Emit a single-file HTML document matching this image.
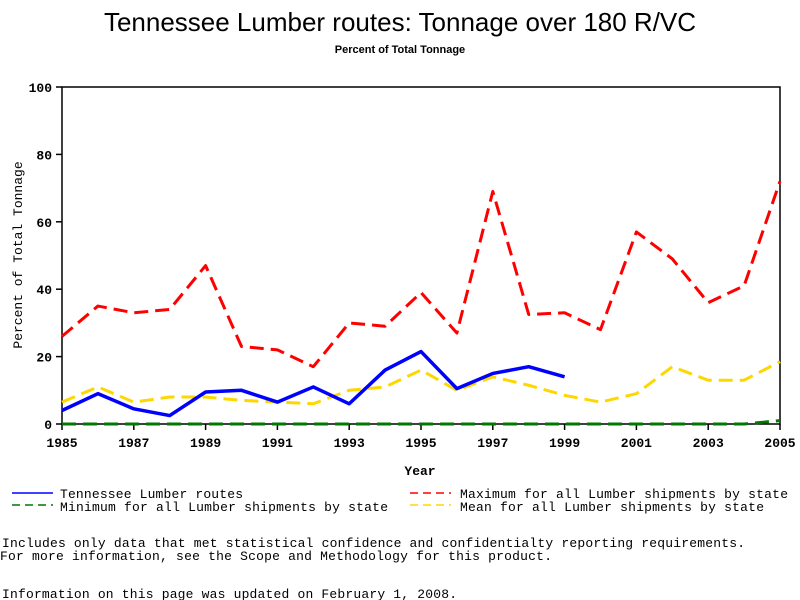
<!DOCTYPE html>
<html><head><meta charset="utf-8"><style>
html,body{margin:0;padding:0;background:#fff;}
svg{display:block;}
text{font-family:"Liberation Mono",monospace;}
</style></head><body>
<svg id="chart" width="800" height="600" xmlns="http://www.w3.org/2000/svg">
<text x="400" y="31" text-anchor="middle" font-family="Liberation Sans, sans-serif" style="font-family:'Liberation Sans',sans-serif" font-size="26">Tennessee Lumber routes: Tonnage over 180 R/VC</text>
<text x="400" y="53" text-anchor="middle" font-size="11" font-weight="bold" style="font-family:'Liberation Sans',sans-serif">Percent of Total Tonnage</text>
<rect x="62" y="87" width="718" height="337" fill="none" stroke="#000" stroke-width="1.5"/>
<g id="axes"></g>
<g id="series"></g>
<text x="420" y="475" text-anchor="middle" font-size="13" font-weight="bold">Year</text>
<text transform="translate(22,255) rotate(-90)" text-anchor="middle" font-size="13">Percent of Total Tonnage</text>
<g>
<line x1="12" y1="493" x2="53" y2="493" stroke="#0000ff" stroke-width="1.5"/>
<text x="60" y="498" font-size="13" textLength="183">Tennessee Lumber routes</text>
<line x1="12" y1="505" x2="53" y2="505" stroke="#007700" stroke-width="1.5" stroke-dasharray="8,5"/>
<text x="60" y="511" font-size="13" textLength="328">Minimum for all Lumber shipments by state</text>
<line x1="410" y1="493" x2="451" y2="493" stroke="#ff0000" stroke-width="1.5" stroke-dasharray="8,5"/>
<text x="460" y="498" font-size="13" textLength="328">Maximum for all Lumber shipments by state</text>
<line x1="410" y1="505" x2="451" y2="505" stroke="#ffd700" stroke-width="1.5" stroke-dasharray="8,5"/>
<text x="460" y="511" font-size="13" textLength="304">Mean for all Lumber shipments by state</text>
</g>
<text x="2" y="547" font-size="13" textLength="743">Includes only data that met statistical confidence and confidentialty reporting requirements.</text>
<text x="0" y="560" font-size="13" textLength="552">For more information, see the Scope and Methodology for this product.</text>
<text x="2" y="598" font-size="13" textLength="455">Information on this page was updated on February 1, 2008.</text>
</svg>
<script>
const years = [1985,1986,1987,1988,1989,1990,1991,1992,1993,1994,1995,1996,1997,1998,1999,2000,2001,2002,2003,2004,2005];
const tennessee = [4,9,4.5,2.5,9.5,10,6.5,11,6,16,21.5,10.5,15,17,14];
const maximum = [26,35,33,34,47,23,22,17,30,29,39,27,69,32.5,33,28,57,49,36,41,72];
const minimum = [0,0,0,0,0,0,0,0,0,0,0,0,0,0,0,0,0,0,0,0,1];
const mean = [6.5,11,6.5,8,8,7,6.5,6,10,11,16,10,14,11.5,8.5,6.5,9,17,13,13,18.5];
const yTicks = [0,20,40,60,80,100];
const xTicks = [1985,1987,1989,1991,1993,1995,1997,1999,2001,2003,2005];
const NS="http://www.w3.org/2000/svg";
function xs(y){return 62+(y-1985)*(718/20);}
function ys(v){return 424-v*3.37;}
const axes=document.getElementById('axes'), series=document.getElementById('series');
function mk(tag,attrs,parent){const e=document.createElementNS(NS,tag);for(const k in attrs)e.setAttribute(k,attrs[k]);parent.appendChild(e);return e;}
yTicks.forEach(v=>{
  const t=mk('line',{x1:56,x2:62,y1:ys(v),y2:ys(v),stroke:'#000','stroke-width':1.5},axes);
  
  
  const l=mk('text',{x:52,y:ys(v)+5,'text-anchor':'end','font-size':13,'font-weight':'bold'},axes);
  l.textContent=v;
  
  
});
xTicks.forEach(y=>{
  const t=mk('line',{x1:xs(y),x2:xs(y),y1:424,y2:430,stroke:'#000','stroke-width':1.5},axes);
  
  
  const l=mk('text',{x:xs(y),y:447,'text-anchor':'middle','font-size':13,'font-weight':'bold'},axes);
  l.textContent=y;
  
  
});
function line(vals,color,dash,w,name){
  const pts=vals.map((v,i)=>xs(years[i])+','+ys(v)).join(' ');
  const p=mk('polyline',{points:pts,fill:'none',stroke:color,'stroke-width':w,'stroke-dasharray':dash,'stroke-linejoin':'round'},series);
  
  
}
line(minimum,'#007700','14,7',3,'series-minimum');
line(mean,'#ffd700','14,7',3,'series-mean');
line(maximum,'#ff0000','14,7',3,'series-maximum');
line(tennessee,'#0000ff','none',3.5,'series-tennessee');
</script>
</body></html>
